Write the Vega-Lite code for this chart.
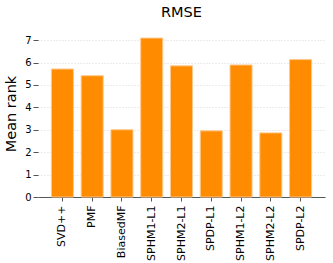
{
  "$schema": "https://vega.github.io/schema/vega-lite/v6.json",
  "autosize": "none",
  "width": 287,
  "height": 167,
  "padding": {"left": 38, "top": 30, "right": 8, "bottom": 66},
  "background": "white",
  "title": {"text": "RMSE", "font": "DejaVu Sans", "fontSize": 14.5, "fontWeight": "normal", "color": "black", "offset": 10},
  "data": {"values": [
    {"method": "SVD++", "rank": 5.71},
    {"method": "PMF", "rank": 5.41},
    {"method": "BiasedMF", "rank": 3.0},
    {"method": "SPHM1-L1", "rank": 7.09},
    {"method": "SPHM2-L1", "rank": 5.85},
    {"method": "SPDP-L1", "rank": 2.95},
    {"method": "SPHM1-L2", "rank": 5.89},
    {"method": "SPHM2-L2", "rank": 2.86},
    {"method": "SPDP-L2", "rank": 6.13}
  ]},
  "mark": {"type": "bar", "color": "#ff8c00", "stroke": "#ffc78a", "strokeWidth": 1},
  "encoding": {
    "x": {"field": "method", "type": "nominal", "sort": null,
      "scale": {"paddingInner": 0.26, "paddingOuter": 0.45},
      "axis": {"title": null, "labelAngle": -90, "labelAlign": "right", "labelBaseline": "middle", "labelFont": "DejaVu Sans", "labelFontSize": 11, "labelColor": "black", "labelPadding": 4, "tickSize": 4, "tickColor": "#555", "domainColor": "#555", "grid": false}},
    "y": {"field": "rank", "type": "quantitative",
      "scale": {"domain": [0, 7.45], "nice": false, "zero": true},
      "axis": {"title": "Mean rank", "titleFont": "DejaVu Sans", "titleFontSize": 14.5, "titleFontWeight": "normal", "titleColor": "black", "titlePadding": 6, "values": [0,1,2,3,4,5,6,7], "labelFont": "DejaVu Sans", "labelFontSize": 10, "labelColor": "black", "labelPadding": 2, "tickSize": 5, "tickColor": "#555", "domain": false, "grid": true, "gridColor": "#d8d8d8", "gridDash": [1, 2], "gridWidth": 1}}
  },
  "config": {"view": {"stroke": null}}
}
